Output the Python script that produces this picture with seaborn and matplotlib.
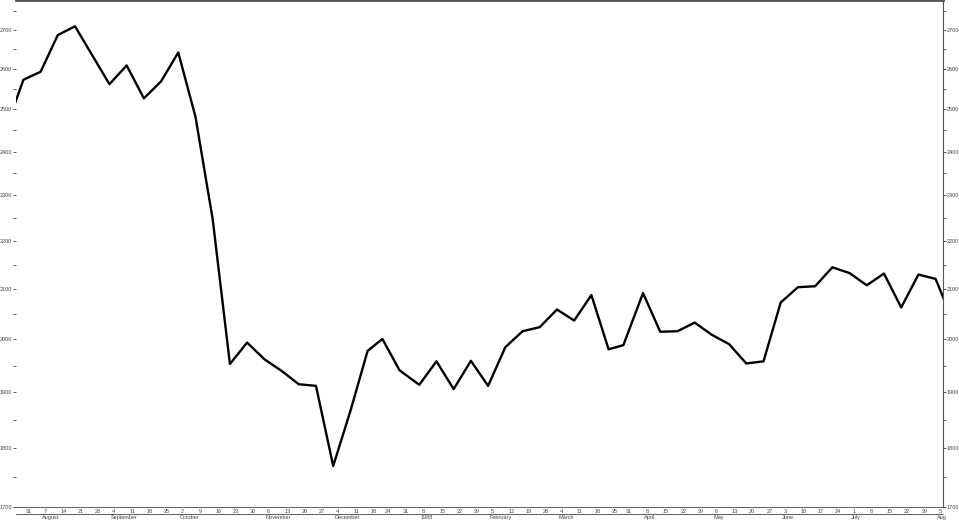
import matplotlib
matplotlib.use("Agg")
import matplotlib.pyplot as plt
import matplotlib.dates as mdates
from matplotlib.ticker import FixedLocator, FuncFormatter, NullFormatter
from matplotlib.lines import Line2D
import pandas as pd
import seaborn as sns

# weekly closes, Jul 1987 - Aug 1988
DATES = [
    "1987-07-24", "1987-07-31", "1987-08-07", "1987-08-14", "1987-08-21", "1987-08-28",
    "1987-09-04", "1987-09-11", "1987-09-18", "1987-09-25", "1987-10-02", "1987-10-09",
    "1987-10-16", "1987-10-23", "1987-10-30", "1987-11-06", "1987-11-13", "1987-11-20",
    "1987-11-27", "1987-12-04", "1987-12-11", "1987-12-18", "1987-12-24", "1987-12-31",
    "1988-01-08", "1988-01-15", "1988-01-22", "1988-01-29", "1988-02-05", "1988-02-12",
    "1988-02-19", "1988-02-26", "1988-03-04", "1988-03-11", "1988-03-18", "1988-03-25",
    "1988-03-31", "1988-04-08", "1988-04-15", "1988-04-22", "1988-04-29", "1988-05-06",
    "1988-05-13", "1988-05-20", "1988-05-27", "1988-06-03", "1988-06-10", "1988-06-17",
    "1988-06-24", "1988-07-01", "1988-07-08", "1988-07-15", "1988-07-22", "1988-07-29",
    "1988-08-05", "1988-08-12",
]
CLOSES = [
    2455, 2573, 2593, 2687, 2710, 2635,
    2562, 2609, 2527, 2569, 2642, 2482,
    2247, 1953, 1994, 1962, 1940, 1915,
    1912, 1769, 1866, 1978, 2001, 1941,
    1914, 1958, 1906, 1959, 1912, 1985,
    2016, 2024, 2059, 2037, 2088, 1981,
    1989, 2092, 2015, 2016, 2033, 2009,
    1991, 1954, 1958, 2073, 2104, 2106,
    2145, 2133, 2108, 2132, 2063, 2130,
    2121, 2036,
]
Y_MAJOR = [1700, 1800, 1900, 2000, 2100, 2200, 2300, 2400, 2500, 2600, 2700]
Y_MINOR = [1750, 1850, 1950, 2050, 2150, 2250, 2350, 2450, 2550, 2650, 2750]
MONTH_NAMES = {8: "August", 9: "September", 10: "October", 11: "November", 12: "December",
               1: "1988", 2: "February", 3: "March", 4: "April", 5: "May", 6: "June",
               7: "July"}
X_START, X_END = "1987-07-28", "1988-08-08"

df = pd.DataFrame({"date": pd.to_datetime(DATES), "close": [float(v) for v in CLOSES]})

sns.set_style("white")
plt.rcParams["font.family"] = ["Liberation Sans", "DejaVu Sans"]
TXT = "#444444"
FS = 4.0

fig = plt.figure(figsize=(9.59, 5.20), dpi=100)
ax = fig.add_axes([16 / 959, 13 / 520, 927 / 959, 507 / 520])

sns.lineplot(data=df, x="date", y="close", ax=ax, color="black", linewidth=1.7)

ax.set_yscale("log")
ax.set_ylim(1700, 2780)
x0, x1 = pd.Timestamp(X_START), pd.Timestamp(X_END)
ax.set_xlim(x0, x1)

ax.yaxis.set_major_locator(FixedLocator(Y_MAJOR))
ax.yaxis.set_minor_locator(FixedLocator(Y_MINOR))
ax.yaxis.set_major_formatter(FuncFormatter(lambda v, p: f"{v:.0f}"))
ax.yaxis.set_minor_formatter(NullFormatter())
ax.tick_params(axis="y", which="both", left=True, right=True, labelleft=True,
               labelright=True, direction="out", length=2, width=0.6,
               color=TXT, labelsize=FS, labelcolor=TXT, pad=0.6)

# week ticks (minor) and month ticks (major) hang below the axis
df_vis = df[(df["date"] >= x0) & (df["date"] <= x1)]
first_of_month = df_vis.groupby([df_vis["date"].dt.year, df_vis["date"].dt.month])["date"].min()
first_of_month = first_of_month[first_of_month.dt.day <= 10]
ax.xaxis.set_minor_locator(FixedLocator(mdates.date2num(df_vis["date"])))
ax.xaxis.set_major_locator(FixedLocator(mdates.date2num(first_of_month)))
ax.xaxis.set_major_formatter(NullFormatter())
ax.xaxis.set_minor_formatter(NullFormatter())
ax.tick_params(axis="x", which="minor", direction="out", length=5, width=0.6, color=TXT)
ax.tick_params(axis="x", which="major", direction="out", length=9.5, width=0.6, color=TXT)
ax.set_xlabel("")
ax.set_ylabel("")

xtrans = ax.get_xaxis_transform()
for d in df_vis["date"]:
    ax.annotate(str(d.day), xy=(mdates.date2num(d), 0.0), xycoords=xtrans,
                xytext=(2, -2.9), textcoords="offset points", ha="left", va="center",
                fontsize=FS, color=TXT, annotation_clip=False)
for d in first_of_month:
    name = MONTH_NAMES[d.month]
    if d.year == 1988 and d.month == 8:
        name = "Aug"
    ax.annotate(name, xy=(mdates.date2num(d), 0.0), xycoords=xtrans,
                xytext=(1, -7.4), textcoords="offset points", ha="left", va="center",
                fontsize=FS, color=TXT, annotation_clip=False)

# divider between the day row and the month row
fig.add_artist(Line2D([16 / 959, 943 / 959], [6 / 520, 6 / 520], color=TXT, linewidth=0.6))

ax.spines["left"].set_visible(False)
ax.spines["top"].set_color("#555555")
ax.spines["top"].set_linewidth(2)
ax.spines["right"].set_color("#555555")
ax.spines["right"].set_linewidth(0.8)
ax.spines["bottom"].set_color(TXT)
ax.spines["bottom"].set_linewidth(0.6)

fig.savefig("out.png", dpi=100)
